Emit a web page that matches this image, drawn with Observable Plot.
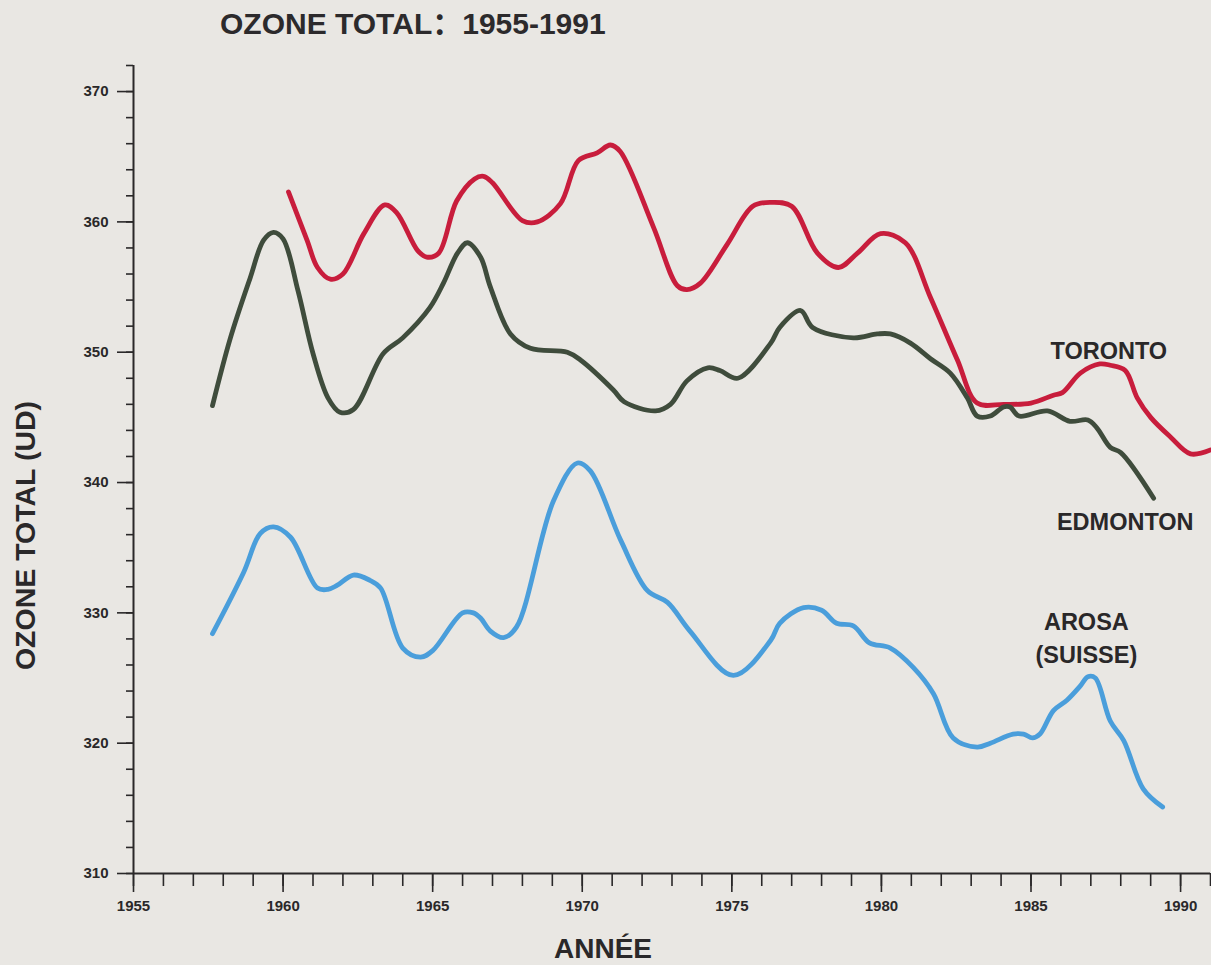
<!DOCTYPE html>
<html><head><meta charset="utf-8">
<script src="https://cdn.jsdelivr.net/npm/d3@7"></script>
<script src="https://cdn.jsdelivr.net/npm/@observablehq/plot@0.6"></script>
<style>
html,body{margin:0;padding:0;background:#e9e7e3;}
#wrap{width:1211px;height:965px;position:relative;overflow:hidden;background:#e9e7e3;}
#title{position:absolute;left:220px;top:6px;font-weight:bold;font-size:30px;font-family:"Liberation Sans", "Noto Sans CJK SC", Arial, sans-serif;color:#2c2a2c;white-space:nowrap;line-height:36px;}
#chart{position:absolute;left:0;top:40px;}
#chart g[aria-label$="tick label"], #chart g[aria-label$="tick label"] text {font-size:15px !important;font-weight:bold !important;}
</style></head>
<body><div id="wrap"><div id="title">OZONE TOTAL：1955-1991</div><div id="chart"></div></div>
<script>
// ---- data ----
const torontoYears = [1960.18,1960.8,1961.15,1961.58,1962.0,1962.7,1963.4,1963.8,1964.5,1964.8,1965.2,1965.8,1966.4,1966.7,1967.0,1968.0,1968.5,1969.27,1969.87,1970.5,1970.94,1971.27,1972.38,1973.18,1973.5,1973.95,1974.85,1975.7,1976.3,1977.0,1977.86,1978.56,1979.2,1979.97,1980.8,1981.64,1982.54,1983.2,1984.08,1985.0,1985.75,1986.05,1986.65,1987.3,1987.65,1988.15,1988.55,1989.0,1989.66,1990.33,1991.0];
const torontoValues = [362.3,358.6,356.5,355.6,356.0,359.1,361.3,360.7,357.8,357.3,357.6,361.6,363.3,363.5,363.0,360.1,360.0,361.4,364.7,365.3,365.9,365.4,359.6,355.1,354.8,355.3,358.3,361.2,361.5,361.2,357.6,356.5,357.6,359.1,358.4,354.2,349.4,346.1,346.0,346.1,346.7,346.9,348.4,349.1,349.0,348.6,346.5,345.0,343.5,342.2,342.5];

const edmontonYears = [1957.64,1958.24,1958.9,1959.35,1959.68,1960.0,1960.5,1961.0,1961.5,1961.9,1962.35,1963.35,1964.0,1964.9,1965.36,1965.83,1966.16,1966.6,1966.93,1967.6,1968.27,1969.5,1969.94,1971.04,1971.4,1972.45,1972.95,1973.5,1974.2,1974.6,1975.2,1976.3,1976.6,1977.3,1977.7,1979.06,1979.86,1980.3,1980.97,1981.64,1982.3,1982.87,1983.2,1983.64,1984.08,1984.3,1984.6,1985.55,1986.3,1986.9,1987.2,1987.65,1988.0,1989.1];
const edmontonValues = [345.9,351.1,355.7,358.6,359.2,358.7,354.7,349.9,346.5,345.4,345.6,349.9,351.1,353.4,355.3,357.6,358.4,357.3,355.0,351.4,350.3,350.0,349.4,347.1,346.2,345.5,346.0,347.8,348.8,348.6,348.0,350.7,351.9,353.2,351.9,351.1,351.4,351.4,350.7,349.5,348.4,346.5,345.1,345.1,345.8,345.8,345.1,345.5,344.7,344.8,344.2,342.7,342.3,338.8];

const arosaYears = [1957.64,1958.68,1959.24,1959.68,1960.25,1961.15,1961.5,1961.8,1962.35,1962.9,1963.26,1964.0,1964.6,1965.0,1966.0,1966.36,1966.6,1966.93,1967.37,1967.8,1969.04,1969.84,1970.27,1971.28,1972.18,1972.85,1973.6,1975.05,1976.3,1976.6,1977.4,1978.0,1978.5,1979.06,1979.6,1980.3,1981.07,1981.74,1982.4,1983.2,1983.64,1984.4,1984.75,1985.05,1985.3,1985.75,1986.2,1986.65,1986.9,1987.15,1987.65,1988.1,1988.75,1989.4];
const arosaValues = [328.4,333.1,336.1,336.6,335.8,331.9,331.8,332.1,332.9,332.5,331.9,327.3,326.6,327.1,330.0,330.0,329.6,328.6,328.1,328.9,338.6,341.5,340.9,335.6,331.7,330.8,328.6,325.2,327.9,329.2,330.4,330.2,329.2,329.0,327.7,327.3,325.8,323.8,320.4,319.7,320.0,320.7,320.7,320.4,320.7,322.5,323.3,324.4,325.1,325.0,321.7,320.2,316.5,315.1];

const seriesNames = ["TORONTO", "EDMONTON", "AROSA (SUISSE)"];
const labelTexts = ["TORONTO", "EDMONTON", "AROSA", "(SUISSE)"];
const labelYears = [1987.6, 1988.15, 1986.85, 1986.85];
const labelValues = [350.05, 336.95, 329.3, 326.7];

const majorXTicks = [1955, 1960, 1965, 1970, 1975, 1980, 1985, 1990];
const majorYTicks = [310, 320, 330, 340, 350, 360, 370];

// ---- build ----
const colors = {"TORONTO": "#c81d3c", "EDMONTON": "#3f4c3c", "AROSA (SUISSE)": "#4a9edb"};
const toRows = (name, xs, ys) => xs.map((x, i) => ({series: name, year: x, value: ys[i]}));
const rows = [
  ...toRows(seriesNames[0], torontoYears, torontoValues),
  ...toRows(seriesNames[1], edmontonYears, edmontonValues),
  ...toRows(seriesNames[2], arosaYears, arosaValues)
];
const labels = labelTexts.map((t, i) => ({text: t, year: labelYears[i], value: labelValues[i]}));
const minorXTicks = d3.range(1955, 1992);
const minorYTicks = d3.range(310, 373, 2);
const axisColor = "#2a2829";

const chart = Plot.plot({
  width: 1211,
  height: 925,
  marginTop: 25,
  marginBottom: 92,
  marginLeft: 133,
  marginRight: 1,
  style: {background: "transparent", fontFamily: "'Liberation Sans', Arial, sans-serif", fontSize: "15px", color: axisColor},
  x: {domain: [1955, 1991]},
  y: {domain: [310, 372]},
  marks: [
    Plot.axisY({ticks: minorYTicks, tickSize: 7, tickFormat: () => "", label: null, stroke: axisColor, strokeWidth: 1.6}),
    Plot.axisY({ticks: majorYTicks, tickSize: 16, tickPadding: 9, tickFormat: d => String(d), label: null, stroke: axisColor, strokeWidth: 1.6, fill: axisColor}),
    Plot.axisX({ticks: minorXTicks, tickSize: 13, tickFormat: () => "", label: null, stroke: axisColor, strokeWidth: 1.6}),
    Plot.axisX({ticks: majorXTicks, tickSize: 19, tickPadding: 8, tickFormat: d => String(d), label: null, stroke: axisColor, strokeWidth: 1.6, fill: axisColor}),
    Plot.ruleX([1955], {y1: 310, y2: 372, stroke: axisColor, strokeWidth: 2}),
    Plot.ruleY([310], {x1: 1955, x2: 1991, stroke: axisColor, strokeWidth: 2}),
    Plot.line(rows, {x: "year", y: "value", z: "series", stroke: d => colors[d.series], strokeWidth: 4.8, curve: "catmull-rom"}),
    Plot.text(labels, {x: "year", y: "value", text: "text", fontSize: 23.5, fontWeight: "bold", fill: axisColor}),
    Plot.text(["OZONE TOTAL (UD)"], {frameAnchor: "left", textAnchor: "middle", lineAnchor: "middle", rotate: -90, dx: -108, dy: 66, fontSize: 28.5, fontWeight: "bold", fill: axisColor}),
    Plot.text(["ANNÉE"], {frameAnchor: "bottom", textAnchor: "middle", lineAnchor: "middle", dx: -69, dy: 76, fontSize: 28, fontWeight: "bold", fill: axisColor})
  ]
});
document.getElementById("chart").appendChild(chart);
</script>
</body></html>
